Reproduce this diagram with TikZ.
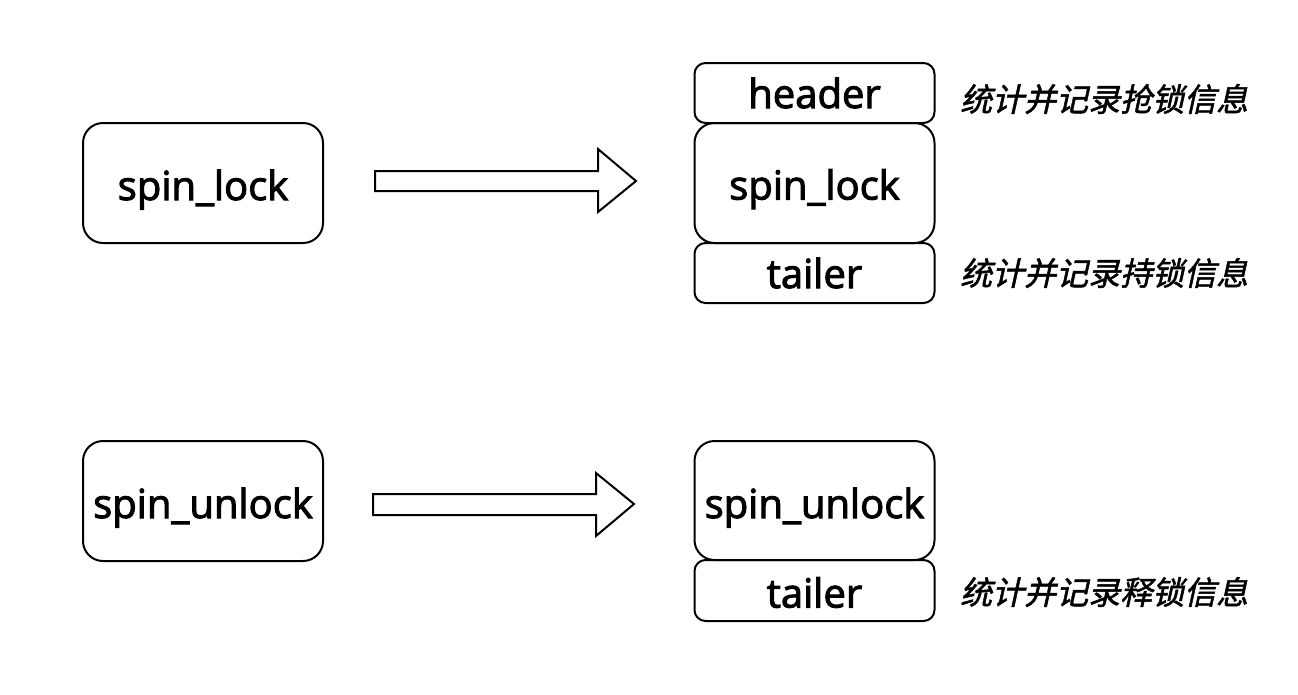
\documentclass[tikz,border=0pt]{standalone}
\usepackage{fontspec}
\setmainfont{Open Sans}
\newfontfamily\boxfont[FakeBold=2.5]{Open Sans}
\newfontfamily\cjk[FakeSlant=0.22,FakeBold=1.5]{Noto Sans CJK SC}
\begin{document}
\begin{tikzpicture}[x=1pt,y=-1pt,
  boxbig/.style={draw,line width=2pt,rounded corners=20pt,minimum width=240pt,minimum height=120pt,inner sep=0pt,text height=34pt,text depth=0pt,font=\boxfont\fontsize{40}{40}\selectfont},
  boxsmall/.style={draw,line width=2pt,rounded corners=11pt,minimum width=240pt,minimum height=60pt,inner sep=0pt,text height=30pt,text depth=0pt,font=\boxfont\fontsize{40}{40}\selectfont},
  note/.style={anchor=west,inner sep=0pt,font=\cjk\fontsize{32}{32}\selectfont},
  blockarrow/.style={draw,line width=2pt,line join=miter,fill=white}]
\useasboundingbox (0,0) rectangle (1298,694);
% top row
\node[boxbig] (lock) at (203,183) {spin\_lock};
\node[boxsmall] (header) at (814.5,93) {header};
\node[boxbig,text height=33pt] (lock2) at (814.5,183) {spin\_lock};
\node[boxsmall] (tail1) at (814.5,273) {tailer};
\node[note] (n1) at (960,99) {统计并记录抢锁信息};
\node[note] (n2) at (960,273) {统计并记录持锁信息};
\draw[blockarrow] (375,171) -- (598,171) -- (598,149) -- (636,181) -- (598,212) -- (598,191) -- (375,191) -- cycle;
% bottom row
\node[boxbig] (unlock) at (203,501) {spin\_unlock};
\node[boxbig,minimum height=119pt,text height=35pt] (unlock2) at (814.5,500.5) {spin\_unlock};
\node[boxsmall,minimum height=61pt,text height=34pt] (tail2) at (814.5,590.5) {tailer};
\node[note] (n3) at (960,592) {统计并记录释锁信息};
\draw[blockarrow] (373,494) -- (596,494) -- (596,473) -- (634,504) -- (596,536) -- (596,515) -- (373,515) -- cycle;
\end{tikzpicture}
\end{document}
